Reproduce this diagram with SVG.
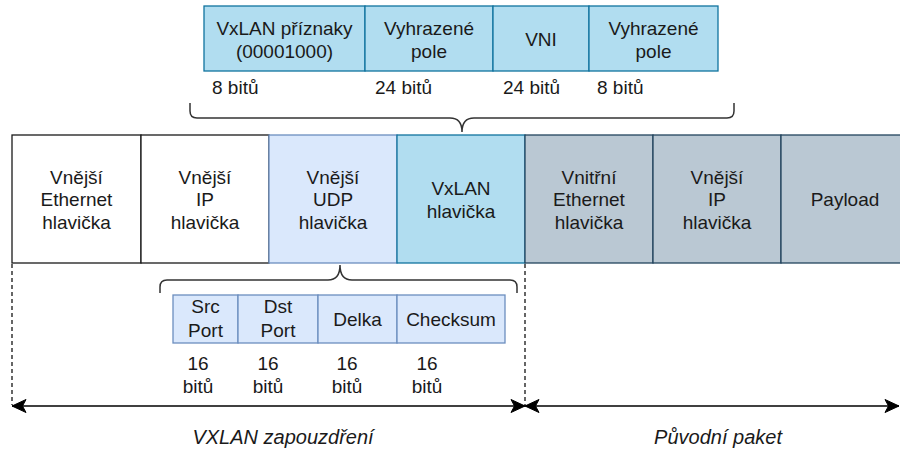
<svg xmlns="http://www.w3.org/2000/svg" width="900" height="450" viewBox="0 0 900 450">
<style>
text{font-family:"Liberation Sans",Arial,Helvetica,sans-serif;font-size:19px;fill:#1a1a1a;text-anchor:middle}
.l{text-anchor:start}
.it{font-style:italic;font-size:20px}
.top{fill:#b1ddf0;stroke:#10739e;stroke-width:1.3}
.wh{fill:#ffffff;stroke:#1a1a1a;stroke-width:1.3}
.udp{fill:#dae8fc;stroke:#6c8ebf;stroke-width:1.3}
.gr{fill:#bac8d3;stroke:#23445d;stroke-width:1.3}
.br{fill:none;stroke:#333333;stroke-width:1.5}
.dash{fill:none;stroke:#000;stroke-width:1.2;stroke-dasharray:4 3}
.arr{fill:none;stroke:#000;stroke-width:1.3;marker-start:url(#ah);marker-end:url(#ah)}
</style>
<defs>
<marker id="ah" viewBox="0 0 16 14" refX="15" refY="7" markerWidth="16" markerHeight="14" markerUnits="userSpaceOnUse" orient="auto-start-reverse">
<path d="M15,7 L1,0.5 L4.5,7 L1,13.5 Z" fill="#000" stroke="#000" stroke-width="1"/>
</marker>
</defs>

<g id="vxlan-flags"><rect class="top" x="204" y="6" width="161" height="65"/><text x="284.5" y="34.5">VxLAN příznaky</text><text x="284.5" y="57.5">(00001000)</text></g>
<g id="reserved-1"><rect class="top" x="365" y="6" width="128" height="65"/><text x="429" y="34.5">Vyhrazené</text><text x="429" y="57.5">pole</text></g>
<g id="vni"><rect class="top" x="493" y="6" width="96" height="65"/><text x="541" y="46">VNI</text></g>
<g id="reserved-2"><rect class="top" x="589" y="6" width="129" height="65"/><text x="653.5" y="34.5">Vyhrazené</text><text x="653.5" y="57.5">pole</text></g>

<g id="top-bits">
<text class="l" x="212" y="94">8 bitů</text>
<text class="l" x="375" y="94">24 bitů</text>
<text class="l" x="503" y="94">24 bitů</text>
<text class="l" x="597" y="94">8 bitů</text>
</g>

<g id="outer-eth"><rect class="wh" x="12" y="135" width="129" height="128"/><text x="76.5" y="183.5">Vnější</text><text x="76.5" y="206">Ethernet</text><text x="76.5" y="228.5">hlavička</text></g>
<g id="outer-ip"><rect class="wh" x="141" y="135" width="128" height="128"/><text x="205" y="183.5">Vnější</text><text x="205" y="206">IP</text><text x="205" y="228.5">hlavička</text></g>
<g id="outer-udp"><rect class="udp" x="269" y="135" width="128" height="128"/><text x="333" y="183.5">Vnější</text><text x="333" y="206">UDP</text><text x="333" y="228.5">hlavička</text></g>
<g id="vxlan-hdr"><rect class="top" x="397" y="135" width="128" height="128"/><text x="461" y="195">VxLAN</text><text x="461" y="217.5">hlavička</text></g>
<g id="inner-eth"><rect class="gr" x="525" y="135" width="128" height="128"/><text x="589" y="183.5">Vnitřní</text><text x="589" y="206">Ethernet</text><text x="589" y="228.5">hlavička</text></g>
<g id="inner-ip"><rect class="gr" x="653" y="135" width="128" height="128"/><text x="717" y="183.5">Vnější</text><text x="717" y="206">IP</text><text x="717" y="228.5">hlavička</text></g>
<g id="payload"><rect class="gr" x="781" y="135" width="128" height="128"/><text x="845" y="206">Payload</text></g>

<g id="src-port"><rect class="udp" x="173" y="295" width="65" height="48"/><text x="205.5" y="313">Src</text><text x="205.5" y="336.5">Port</text></g>
<g id="dst-port"><rect class="udp" x="238" y="295" width="80" height="48"/><text x="278" y="313">Dst</text><text x="278" y="336.5">Port</text></g>
<g id="delka"><rect class="udp" x="318" y="295" width="79" height="48"/><text x="357.5" y="326">Delka</text></g>
<g id="checksum"><rect class="udp" x="397" y="295" width="108" height="48"/><text x="451" y="326">Checksum</text></g>

<g id="udp-bits">
<text x="198" y="370">16</text><text x="198" y="393">bitů</text>
<text x="268" y="370">16</text><text x="268" y="393">bitů</text>
<text x="347" y="370">16</text><text x="347" y="393">bitů</text>
<text x="427" y="370">16</text><text x="427" y="393">bitů</text>
</g>

<g id="connectors">
<path class="br" d="M190,103 V111 Q190,118 197,118 H450 Q462,118 462,132 Q462,118 474,118 H727 Q734,118 734,111 V103"/>
<path class="br" d="M160,293 V287 Q160,280 167,280 H328 Q340,280 340,265 Q340,280 352,280 H510 Q517,280 517,287 V293"/>
<line class="dash" x1="12" y1="264" x2="12" y2="405"/>
<line class="dash" x1="525" y1="264" x2="525" y2="405"/>
<line class="arr" x1="12" y1="406" x2="525" y2="406"/>
<line class="arr" x1="525" y1="406" x2="899" y2="406"/>
</g>

<g id="labels">
<text class="it" x="283" y="444">VXLAN zapouzdření</text>
<text class="it" x="718" y="444">Původní paket</text>
</g>
</svg>
